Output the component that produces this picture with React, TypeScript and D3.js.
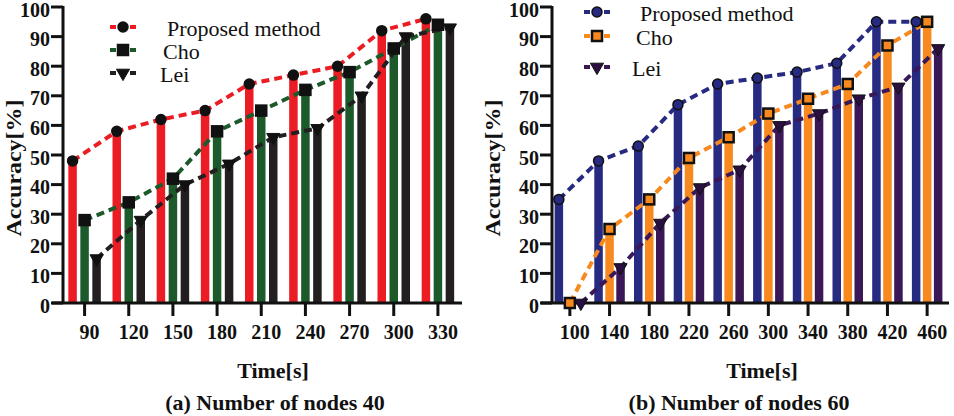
import React from "react";
import * as d3 from "d3";

const timesA = ["90", "120", "150", "180", "210", "240", "270", "300", "330"];
const proposedA = [48, 58, 62, 65, 74, 77, 80, 92, 96];
const choA = [28, 34, 42, 58, 65, 72, 78, 86, 94];
const leiA = [15, 28, 40, 47, 56, 59, 70, 90, 93];

const timesB = ["100", "140", "180", "220", "260", "300", "340", "380", "420", "460"];
const proposedB = [35, 48, 53, 67, 74, 76, 78, 81, 95, 95];
const choB = [0, 25, 35, 49, 56, 64, 69, 74, 87, 95];
const leiB = [0, 12, 27, 39, 45, 60, 64, 69, 73, 86];

const yTicks = [0, 10, 20, 30, 40, 50, 60, 70, 80, 90, 100];
const seriesNames = ["Proposed method", "Cho", "Lei"];

type Panel = {
  cats: string[];
  series: number[][];
  colors: string[];
  markerFill: string[];
  markerStroke: string[];
  axisX: number;
  xStart: number;
  xRange: [number, number];
  offsets: number[];
  legendX: number;
  legendY: number[];
  textX: number[];
  yLabelX: number;
  titleX: number;
  captionX: number;
  caption: string;
};

const FONT = '"Liberation Serif", "Times New Roman", Times, serif';
const y = d3.scaleLinear().domain([0, 100]).range([303, 7]);

function Marker({ kind, x, yy, fill, stroke }: { kind: number; x: number; yy: number; fill: string; stroke: string }) {
  if (kind === 0) return <circle cx={x} cy={yy} r={5} fill={fill} stroke={stroke} strokeWidth={1.5} />;
  if (kind === 1) return <rect x={x - 5} y={yy - 5} width={10} height={10} fill={fill} stroke={stroke} strokeWidth={2.5} />;
  const s = d3.symbol(d3.symbolTriangle, 75)();
  return <path d={s as string} transform={`translate(${x},${yy}) rotate(180)`} fill={fill} stroke={stroke} strokeWidth={1} />;
}

function ChartPanel({ p }: { p: Panel }) {
  const x = d3.scaleBand<string>().domain(p.cats).range(p.xRange).padding(0);
  const cx = (c: string) => (x(c) as number) + x.bandwidth() / 2;
  const barW = 8.5;
  const line = d3.line<[number, number]>().x((d) => d[0]).y((d) => d[1]);
  return (
    <g>
      {p.series.map((vals, si) =>
        vals.map((v, i) => (
          <rect
            key={`b${si}-${i}`}
            x={cx(p.cats[i]) + p.offsets[si] - barW / 2}
            y={y(v)}
            width={barW}
            height={y(0) - y(v)}
            fill={p.colors[si]}
          />
        ))
      )}
      <line x1={p.axisX} x2={p.axisX} y1={y(100) - 1} y2={y(0)} stroke="#111" strokeWidth={3} />
      <line x1={p.xStart} x2={p.xRange[1] + 2} y1={y(0)} y2={y(0)} stroke="#111" strokeWidth={3} />
      {yTicks.map((t) => (
        <g key={`yt${t}`}>
          <line x1={p.axisX - 12} x2={p.axisX} y1={y(t)} y2={y(t)} stroke="#111" strokeWidth={3} />
          <text x={p.axisX - 13} y={y(t) + 2.5} dy="0.35em" textAnchor="end" style={{ fontFamily: FONT }} fontWeight="bold" fontSize={20} fill="#111">
            {t}
          </text>
        </g>
      ))}
      {p.cats.map((c) => (
        <g key={`xt${c}`}>
          <line x1={cx(c)} x2={cx(c)} y1={y(0)} y2={y(0) + 13} stroke="#111" strokeWidth={3} />
          <text x={cx(c) + 5} y={332} dy="0.35em" textAnchor="middle" style={{ fontFamily: FONT }} fontWeight="bold" fontSize={20} fill="#111">
            {c}
          </text>
        </g>
      ))}
      {p.series.map((vals, si) => (
        <path
          key={`l${si}`}
          d={line(vals.map((v, i) => [cx(p.cats[i]) + p.offsets[si], y(v)])) as string}
          fill="none"
          stroke={p.colors[si]}
          strokeWidth={4}
          strokeDasharray="8,5"
        />
      ))}
      {p.series.map((vals, si) =>
        vals.map((v, i) => (
          <Marker key={`m${si}-${i}`} kind={si} x={cx(p.cats[i]) + p.offsets[si]} yy={y(v)} fill={p.markerFill[si]} stroke={p.markerStroke[si]} />
        ))
      )}
      {seriesNames.map((n, si) => (
        <g key={`lg${si}`}>
          <line x1={p.legendX - 13} x2={p.legendX + 17} y1={p.legendY[si]} y2={p.legendY[si]} stroke={p.colors[si]} strokeWidth={4} strokeDasharray="6,4" />
          <Marker kind={si} x={p.legendX} yy={p.legendY[si]} fill={p.markerFill[si]} stroke={p.markerStroke[si]} />
          <text x={p.textX[si]} y={p.legendY[si] + 1} dy="0.35em" style={{ fontFamily: FONT }} fontSize={22} fill="#111">
            {n}
          </text>
        </g>
      ))}
      <text
        transform={`translate(${p.yLabelX},168) rotate(-90)`}
        textAnchor="middle"
        dy="0.35em"
        style={{ fontFamily: FONT }}
        fontWeight="bold"
        fontSize={20}
        textLength={137}
        lengthAdjust="spacingAndGlyphs"
        fill="#111"
      >
        Accuracy[%]
      </text>
      <text x={p.titleX} y={370} dy="0.35em" textAnchor="middle" style={{ fontFamily: FONT }} fontWeight="bold" fontSize={22} fill="#111">
        Time[s]
      </text>
      <text x={p.captionX} y={402} dy="0.35em" textAnchor="middle" style={{ fontFamily: FONT }} fontWeight="bold" fontSize={22} fill="#111">
        {p.caption}
      </text>
    </g>
  );
}

const panelA: Panel = {
  cats: timesA,
  series: [proposedA, choA, leiA],
  colors: ["#ec1c24", "#1c5a2c", "#231f20"],
  markerFill: ["#111", "#111", "#111"],
  markerStroke: ["#111", "#111", "#111"],
  axisX: 63,
  xStart: 52,
  xRange: [62.5, 460],
  offsets: [-12, 0, 12],
  legendX: 123,
  legendY: [27, 50, 73],
  textX: [167, 163, 160],
  yLabelX: 14,
  titleX: 273,
  captionX: 275,
  caption: "(a) Number of nodes 40",
};

const panelB: Panel = {
  cats: timesB,
  series: [proposedB, choB, leiB],
  colors: ["#262a80", "#f7891f", "#3a1858"],
  markerFill: ["#262a80", "#f7891f", "#2a1040"],
  markerStroke: ["#111", "#111", "#111"],
  axisX: 552,
  xStart: 541,
  xRange: [550, 947],
  offsets: [-11, 0, 11],
  legendX: 597,
  legendY: [12, 36, 67],
  textX: [640, 636, 632],
  yLabelX: 493,
  titleX: 762,
  captionX: 739,
  caption: "(b) Number of nodes 60",
};

export default function App() {
  return (
    <svg width={954} height={416} style={{ position: "absolute", left: 0, top: 0, background: "#fff" }}>
      <rect width={954} height={416} fill="#fff" />
      <ChartPanel p={panelA} />
      <ChartPanel p={panelB} />
    </svg>
  );
}
